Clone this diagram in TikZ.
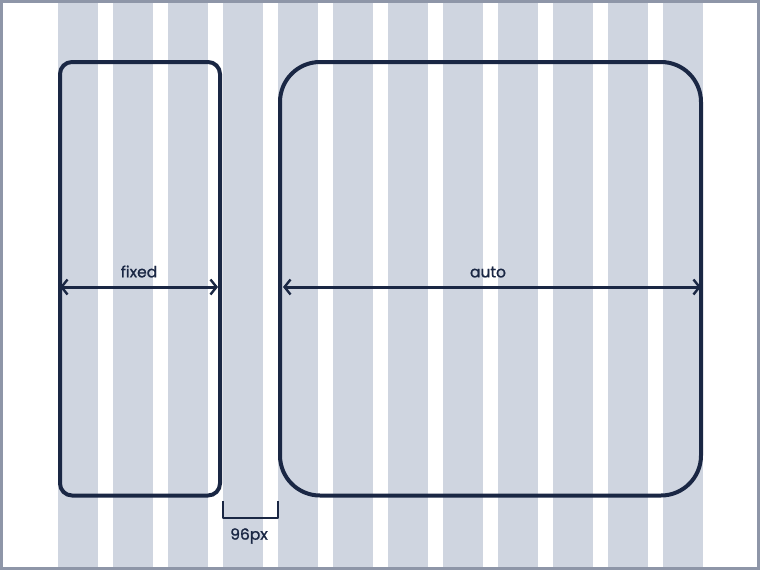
\documentclass[tikz,border=0pt]{standalone}
\usepackage{fontspec}
\setmainfont{Poppins}
\newfontfamily\lblfont{Poppins}[FakeBold=1.2]
\usetikzlibrary{arrows.meta}
\definecolor{navy}{HTML}{1A2744}
\definecolor{stripe}{HTML}{CFD5E0}
\definecolor{frame}{HTML}{8E96A8}
\begin{document}
\begin{tikzpicture}[x=1pt,y=-1pt,
  colstripe/.style={fill=stripe,draw=none},
  box/.style={draw=navy,line width=4pt,rectangle,inner sep=0pt,outer sep=0pt},
  dimline/.style={draw=navy,line width=3pt,{Straight Barb[length=6pt,width=15pt,line width=2.4pt]}-{Straight Barb[length=6pt,width=15pt,line width=2.4pt]}},
  lbl/.style={text=navy,font=\lblfont\fontsize{15.5}{18}\selectfont,inner sep=0pt}]
\fill[frame] (0,0) rectangle (760,570);
\fill[white] (3,3) rectangle (757,567);
\useasboundingbox (0,0) rectangle (760,570);
\foreach \i in {0,...,11}{
  \fill[colstripe] ({58+55*\i},3) rectangle ({98+55*\i},567);
}
\node[box,rounded corners=12pt,minimum width=160pt,minimum height=433.5pt] (lbox) at (140,278.75) {};
\node[box,rounded corners=40pt,minimum width=421pt,minimum height=433.5pt] (rbox) at (490.5,278.75) {};
\coordinate (la) at ([yshift=-8.25pt]lbox.west);
\coordinate (lb) at ([yshift=-8.25pt,xshift=-2pt]lbox.east);
\coordinate (ra) at ([yshift=-8.25pt,xshift=3pt]rbox.west);
\coordinate (rb) at ([yshift=-8.25pt]rbox.east);
\draw[dimline] (la) -- node[lbl,above=8pt] (fixedlbl) {fixed} (lb);
\draw[dimline] (ra) -- node[lbl,above=8pt,xshift=-4pt] (autolbl) {auto} (rb);
\coordinate (g1) at (223,501);
\coordinate (g2) at (278,501);
\draw[navy,line width=2pt,line join=round] (g1) -- ++(0,17) -| (g2);
\node[lbl] (gaplbl) at (249,536) {96px};
\end{tikzpicture}
\end{document}
